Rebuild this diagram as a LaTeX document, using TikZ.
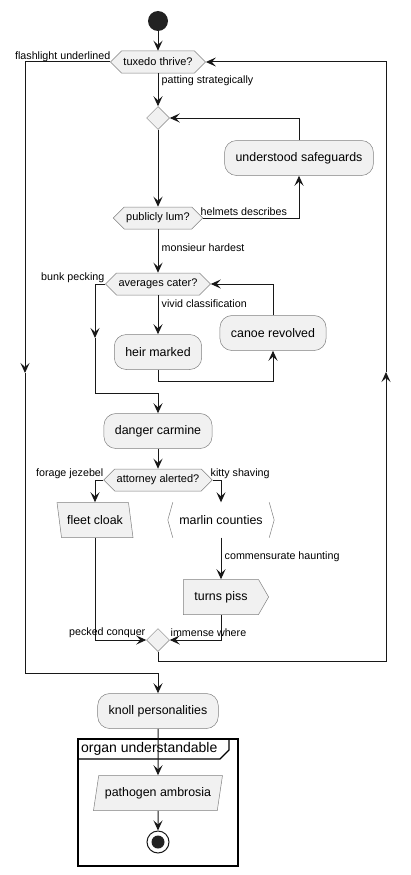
\documentclass[tikz,border=0pt]{standalone}
\usepackage{fontspec}
\setmainfont{Liberation Sans}
\usetikzlibrary{arrows.meta}
\usetikzlibrary{shapes.geometric,shapes.symbols}
\usetikzlibrary{calc,positioning}

\definecolor{actfill}{HTML}{F1F1F1}
\definecolor{actline}{HTML}{181818}
\definecolor{boxline}{HTML}{808080}
\definecolor{dotfill}{HTML}{222222}

\begin{document}
\begin{tikzpicture}[x=1pt,y=-1pt,>={Stealth[length=10pt,width=9pt,inset=4pt]},
  flow/.style={draw=actline, line width=1pt},
  act/.style={draw=boxline, fill=actfill, rounded corners=12pt, line width=0.5pt,
    minimum height=35pt, inner xsep=11pt, font=\fontsize{12.4}{14}\selectfont},
  test/.style={signal, signal to=west and east, draw=boxline, fill=actfill,
    line width=0.5pt, inner xsep=2pt, minimum height=22pt, font=\fontsize{11}{13}\selectfont},
  merge/.style={diamond, draw=boxline, fill=actfill, line width=0.5pt,
    minimum size=23pt, inner sep=0pt},
  inbox/.style={trapezium, trapezium stretches body=true, draw=boxline, fill=actfill,
    line width=0.5pt, minimum height=35pt, inner xsep=3pt, font=\fontsize{12.4}{14}\selectfont},
  lbl/.style={font=\fontsize{10.7}{13}\selectfont, inner sep=1.5pt}]
\useasboundingbox (0,0) rectangle (410,875);

\node[circle, fill=dotfill, minimum size=20pt, inner sep=0pt] (start) at (158,21) {};
\node[test] (tt) at (158,62) {tuxedo thrive?};
\node[merge] (m1) at (158,118) {};
\node[act] (us) at (299,158) {understood safeguards};
\node[test] (pl) at (158,218) {publicly lum?};
\node[test] (ac) at (158,284) {averages cater?};
\node[act] (hm) at (158,352) {heir marked};
\node[act] (cr) at (273,333) {canoe revolved};
\node[act] (dc) at (158,431) {danger carmine};
\node[test] (aa) at (158,480) {attorney alerted?};
\node[inbox, trapezium left angle=106, trapezium right angle=74,
  minimum width=76pt] (fc) at (95,520) {fleet cloak};
\node[minimum width=96pt, minimum height=35pt, inner sep=0pt,
  font=\fontsize{12.4}{14}\selectfont] (mc) at (221,520) {marlin counties};
\node[signal, signal to=east, signal pointer angle=120, draw=boxline, fill=actfill,
  line width=0.5pt, minimum height=35pt, inner xsep=11pt,
  font=\fontsize{12.4}{14}\selectfont] (tp) at (221,597) {turns piss};
\node[merge] (m2) at (158,640) {};
\node[act] (kp) at (158,711) {knoll personalities};
\node[inbox, trapezium left angle=74, trapezium right angle=106,
  minimum width=129pt] (pa) at (158,793) {pathogen ambrosia};
\node[circle, draw=actline, line width=1pt, minimum size=22pt, inner sep=0pt] (stop) at (158,842) {};
\node[circle, fill=dotfill, minimum size=13pt, inner sep=0pt] (stopdot) at (stop) {};

% marlin counties brackets
\draw[boxline, line width=0.5pt] (mc.north west) -- ($(mc.west)+(-5,0)$) -- (mc.south west);
\draw[boxline, line width=0.5pt] (mc.north east) -- ($(mc.east)+(5,0)$) -- (mc.south east);

% frame
\draw[line width=1.5pt] (78,739) rectangle (238,866);
\draw[line width=1.2pt] (78,759) -- (220,759) -- (229,750) -- (229,739);
\node[anchor=west, inner sep=0pt, font=\fontsize{14}{16}\selectfont] (ftitle) at (81,749) {organ understandable};

\coordinate (lt) at (25,62);
\coordinate (lm) at (25,373);
\coordinate (lb) at (25,673);
\coordinate (rb) at (386,661);
\coordinate (rm) at (386,372);
\coordinate (rt) at (386,62);
\coordinate (bm) at (95,338);
\coordinate (bb) at (95,393);
\coordinate (hc) at (273,381);

\draw[flow,->] (start) -- (tt.north);
\draw[flow,->] (tt.south) -- (m1.north);
\draw[flow,->] (m1.south) -- (pl.north);
\draw[flow,->] (pl.east) -| (us.south);
\draw[flow,->] (us.north) |- (m1.east);
\draw[flow,->] (pl.south) -- (ac.north);
\draw[flow,->] (ac.south) -- (hm.north);
\draw[flow,->] (hm.south) |- (hc) -- (cr.south);
\draw[flow,->] (cr.north) |- (ac.east);
\draw[flow,->] (ac.west) -| (bm);
\draw[flow,->] (bm) -- (bb) -| (dc.north);
\draw[flow,->] (dc.south) -- (aa.north);
\draw[flow,->] (aa.west) -| (fc.north);
\draw[flow,->] (aa.east) -| (mc.north);
\draw[flow,->] (mc.south) -- (tp.north);
\draw[flow,->] (fc.south) |- (m2.west);
\draw[flow,->] (tp.south) |- (m2.east);
\draw[flow,->] (m2.south) |- (rb) -- (rm);
\draw[flow,->] (rm) -- (rt) -- (tt.east);
\draw[flow,->] (tt.west) -- (lt) -- (lm);
\draw[flow,->] (lm) -- (lb) -| (kp.north);
\draw[flow,->] (kp.south) -- (pa.north);
\draw[flow,->] (pa.south) -- (stop.north);

\node[lbl, anchor=east] (l1) at (112,57) {flashlight underlined};
\node[lbl, anchor=west] (l2) at (160,81) {patting strategically};
\node[lbl, anchor=west] (l3) at (199,212) {helmets describes};
\node[lbl, anchor=west] (l4) at (160,248) {monsieur hardest};
\node[lbl, anchor=east] (l5) at (106,278) {bunk pecking};
\node[lbl, anchor=west] (l6) at (160,304) {vivid classification};
\node[lbl, anchor=east] (l7) at (105,474) {forage jezebel};
\node[lbl, anchor=west] (l8) at (209,474) {kitty shaving};
\node[lbl, anchor=west] (l9) at (223,557) {commensurate haunting};
\node[lbl, anchor=east] (l10) at (147,633) {pecked conquer};
\node[lbl, anchor=west] (l11) at (169,633) {immense where};
\end{tikzpicture}
\end{document}
